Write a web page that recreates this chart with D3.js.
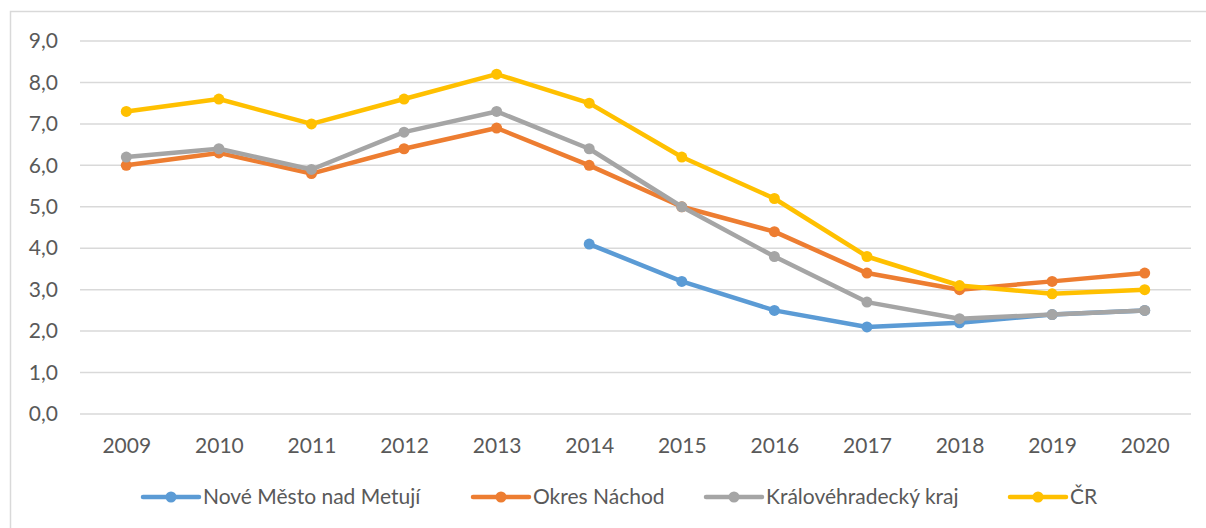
<!DOCTYPE html>
<html>
<head>
<meta charset="utf-8">
<script src="https://cdn.jsdelivr.net/npm/d3@7"></script>
<style>
  body { margin: 0; background: #fff; }
  text { font-family: Lato, "Open Sans", sans-serif; fill: #595959; }
</style>
</head>
<body>
<div class="chart"></div>
<script>
// Data
var years = ["2009", "2010", "2011", "2012", "2013", "2014", "2015", "2016", "2017", "2018", "2019", "2020"];
var seriesNames = ["Nové Město nad Metují", "Okres Náchod", "Královéhradecký kraj", "ČR"];
var noveMesto = [null, null, null, null, null, 4.1, 3.2, 2.5, 2.1, 2.2, 2.4, 2.5];
var okresNachod = [6.0, 6.3, 5.8, 6.4, 6.9, 6.0, 5.0, 4.4, 3.4, 3.0, 3.2, 3.4];
var hkKraj = [6.2, 6.4, 5.9, 6.8, 7.3, 6.4, 5.0, 3.8, 2.7, 2.3, 2.4, 2.5];
var cr = [7.3, 7.6, 7.0, 7.6, 8.2, 7.5, 6.2, 5.2, 3.8, 3.1, 2.9, 3.0];
var yTicks = [0, 1, 2, 3, 4, 5, 6, 7, 8, 9];

var colors = ["#5B9BD5", "#ED7D31", "#A5A5A5", "#FFC000"];
var allSeries = [noveMesto, okresNachod, hkKraj, cr];

var svgWidth = 1206, svgHeight = 528;
var plot = { left: 80, right: 1191, top: 41, bottom: 414 };
var fontSize = 21;

var svg = d3.select(".chart")
    .append("svg")
    .attr("width", svgWidth)
    .attr("height", svgHeight);

// chart border
svg.append("rect")
    .attr("x", 10.5)
    .attr("y", 11.5)
    .attr("width", 1210)
    .attr("height", 540)
    .attr("fill", "none")
    .attr("stroke", "#D9D9D9")
    .attr("stroke-width", 1.5);

var x = d3.scalePoint()
    .domain(years)
    .range([plot.left, plot.right])
    .padding(0.5);

var y = d3.scaleLinear()
    .domain([0, 9])
    .range([plot.bottom, plot.top]);

// gridlines
svg.append("g")
    .selectAll("line")
    .data(yTicks)
    .enter()
    .append("line")
    .attr("x1", plot.left)
    .attr("x2", plot.right)
    .attr("y1", d => y(d))
    .attr("y2", d => y(d))
    .attr("stroke", "#D9D9D9")
    .attr("stroke-width", 1.5);

// y axis labels
var leftAxis = d3.axisLeft(y)
    .tickValues(yTicks)
    .tickSize(0)
    .tickPadding(0)
    .tickFormat(d => d3.format(".1f")(d).replace(".", ","));

var yAxis = svg.append("g")
    .attr("transform", "translate(58,0)")
    .call(leftAxis);
yAxis.select(".domain").remove();
yAxis.selectAll("text")
    .attr("font-size", fontSize)
    .attr("font-family", null)
    .attr("fill", null);

// x axis labels
var bottomAxis = d3.axisBottom(x).tickSize(0).tickPadding(0);
var xAxis = svg.append("g")
    .attr("transform", "translate(0,438)")
    .call(bottomAxis);
xAxis.select(".domain").remove();
xAxis.selectAll("text")
    .attr("font-size", fontSize)
    .attr("font-family", null)
    .attr("fill", null);

// lines and markers
var line = d3.line()
    .defined(d => d != null)
    .x((d, i) => x(years[i]))
    .y(d => y(d));

allSeries.forEach(function(values, s) {
    var g = svg.append("g");
    g.append("path")
        .datum(values)
        .attr("d", line)
        .attr("fill", "none")
        .attr("stroke", colors[s])
        .attr("stroke-width", 4.5)
        .attr("stroke-linejoin", "round")
        .attr("stroke-linecap", "round");
    g.selectAll("circle")
        .data(values.map((v, i) => ({ v: v, year: years[i] })).filter(d => d.v != null))
        .enter()
        .append("circle")
        .attr("cx", d => x(d.year))
        .attr("cy", d => y(d.v))
        .attr("r", 5.5)
        .attr("fill", colors[s]);
});

// legend
var legendStarts = [143, 473, 706, 1010];
var legendY = 497;
var legend = svg.append("g");
seriesNames.forEach(function(name, s) {
    var lx = legendStarts[s];
    legend.append("line")
        .attr("x1", lx)
        .attr("x2", lx + 56)
        .attr("y1", legendY)
        .attr("y2", legendY)
        .attr("stroke", colors[s])
        .attr("stroke-width", 4.5)
        .attr("stroke-linecap", "round");
    legend.append("circle")
        .attr("cx", lx + 28)
        .attr("cy", legendY)
        .attr("r", 5.5)
        .attr("fill", colors[s]);
    legend.append("text")
        .attr("x", lx + 60)
        .attr("y", legendY)
        .attr("dy", "0.35em")
        .attr("font-size", fontSize)
        .text(name);
});
</script>
</body>
</html>
